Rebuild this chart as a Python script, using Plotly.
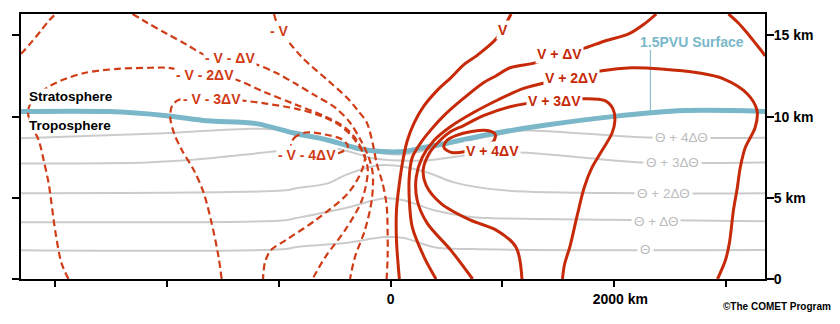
import plotly.graph_objects as go

# ---------------- cross-section data: distance (km) / height (km) ----------------
# 1.5 PVU dynamic tropopause
trop_x = [-3350, -2520, -2000, -1640, -1200, -850, -580, -290, -80, 120, 300, 480, 920, 1360, 1980, 2620, 3400]
trop_z = [10.31, 10.31, 10.06, 9.75, 9.57, 8.96, 8.59, 8.04, 7.85, 7.85, 8.10, 8.34, 8.96, 9.45, 10.0, 10.37, 10.31]

# isentropes
theta0_x = [-3350, -940, -850, -410, -50, 120, 390, 740, 3400]
theta0_z = [1.78, 1.84, 1.96, 2.21, 2.58, 2.52, 1.96, 1.84, 1.78]
theta1_x = [-3350, -940, -850, -410, -50, 120, 390, 740, 920, 3400]
theta1_z = [3.50, 3.62, 3.74, 4.36, 4.97, 4.85, 4.23, 3.80, 3.74, 3.56]
theta2_x = [-3350, -940, -850, -560, -410, -120, 35, 330, 565, 1010, 2240, 3400]
theta2_z = [5.28, 5.46, 5.58, 5.89, 6.38, 6.99, 6.99, 6.56, 5.95, 5.46, 5.28, 5.28]
theta3_x = [-3350, -2170, -1640, -940, -490, -140, 300, 740, 1155, 1710, 2240, 3400]
theta3_z = [7.12, 7.18, 7.42, 7.91, 8.04, 7.42, 7.30, 7.67, 7.79, 7.48, 7.18, 7.18]
theta4_x = [-3350, -2080, -1200, -850, -490, -230, 124, 477, 918, 1183, 1712, 2305, 3400]
theta4_z = [8.65, 8.96, 9.26, 9.08, 8.47, 7.91, 7.67, 8.22, 8.83, 9.14, 8.96, 8.71, 8.71]
theta_labels = ["Θ", "Θ + ΔΘ", "Θ + 2ΔΘ", "Θ + 3ΔΘ", "Θ + 4ΔΘ"]
theta_label_x = [2277, 2374, 2440, 2520, 2595]
theta_label_z = [1.84, 3.56, 5.28, 7.18, 8.71]

# wind-speed isotachs, negative side (dashed)
neg_v_x = [-1041, -1015, -936, -786, -556, -380, -291, -212, -159, -124, -71, -35, -26, -26, -35]
neg_v_z = [16.32, 15.77, 14.85, 13.62, 12.21, 11.10, 10.37, 9.63, 8.34, 7.12, 5.89, 4.54, 2.82, 1.35, 0]
neg_v_corner_x = [-3301, -3292, -3213, -3124, -3054, -2992]
neg_v_corner_z = [13.87, 13.93, 14.54, 15.28, 15.89, 16.32]
neg_v1_x = [-2304, -2171, -1995, -1818, -1642, -1430, -1218, -1024, -847, -671, -494, -362, -265, -194, -159, -168, -229, -318, -362]
neg_v1_z = [16.32, 15.77, 15.09, 14.42, 13.74, 13.5, 13.25, 12.70, 12.02, 11.29, 10.55, 9.63, 8.53, 7.48, 6.50, 4.85, 3.01, 1.35, 0]
neg_v2_x = [-2877, -2939, -2992, -3054, -3098, -3142, -3204, -3239, -3213, -3142, -3054, -2948, -2727, -2436, -2145,
            -1995, -1659, -1403, -1112, -847, -583, -406, -300, -229, -203, -256, -406, -583, -697]
neg_v2_z = [0, 0.98, 2.82, 5.89, 7.30, 8.53, 9.45, 10.25, 10.86, 11.41, 11.84, 12.21, 12.70, 12.94, 13.01,
            13.01, 12.64, 12.33, 11.47, 10.74, 10.0, 9.33, 8.53, 7.48, 6.69, 4.85, 3.01, 1.35, 0]
neg_v3_x = [-1509, -1536, -1598, -1668, -1756, -1862, -1933, -1968, -1951, -1889, -1593, -1315, -1112, -847, -627,
            -450, -335, -256, -229, -256, -380, -671, -936, -1068, -1121, -1139]
neg_v3_z = [0, 1.35, 3.44, 5.28, 6.69, 7.91, 8.96, 9.94, 10.67, 11.04, 11.10, 10.98, 10.80, 10.49, 10.06,
            9.45, 8.71, 7.91, 7.61, 6.69, 5.28, 3.62, 2.39, 1.78, 1.04, 0]
neg_v4_x = [-891, -865, -759, -583, -432, -380, -450, -671, -847, -891]
neg_v4_z = [7.91, 8.65, 9.02, 8.90, 8.59, 8.16, 7.79, 7.61, 7.67, 7.91]
neg_labels = ["- V", "- V - ΔV", "- V - 2ΔV", "- V - 3ΔV", "- V - 4ΔV"]
neg_label_x = [-993, -1430, -1655, -1593, -746]
neg_label_z = [15.28, 13.62, 12.58, 11.10, 7.61]

# wind-speed isotachs, positive side (solid)
pos_v_x = [1077, 1033, 988, 944, 768, 653, 538, 415, 300, 212, 150, 115, 79, 53, 53, 79]
pos_v_z = [16.32, 15.77, 15.28, 14.79, 13.74, 13.19, 12.39, 11.60, 10.67, 9.63, 8.53, 7.48, 5.89, 4.23, 2.39, 0]
pos_v_corner_x = [3019, 3107, 3186, 3257, 3327, 3345]
pos_v_corner_z = [16.32, 15.77, 15.15, 14.54, 13.93, 13.74]
pos_v1_x = [2374, 2268, 2127, 1915, 1739, 1500, 1289, 1068, 944, 830, 627, 477, 362, 265, 194, 168, 168, 194, 300, 406]
pos_v1_z = [16.32, 15.71, 15.09, 14.66, 14.23, 13.80, 13.31, 13.01, 12.52, 12.09, 10.98, 10.06, 9.20, 8.34, 7.48,
            6.38, 4.85, 3.19, 1.35, 0]
pos_v2_x = [733, 538, 327, 238, 229, 282, 388, 538, 741, 962, 1183, 1386, 1615, 1889, 2154, 2418, 2745, 2974,
            3186, 3274, 3257, 3169, 3124, 3098, 3063, 3027, 2992, 2921]
pos_v2_z = [0, 1.78, 3.44, 4.85, 6.26, 7.48, 8.53, 9.39, 10.25, 11.04, 11.72, 12.09, 12.39, 12.82, 13.01, 12.94,
            12.70, 12.33, 11.41, 10.37, 9.33, 8.10, 6.87, 5.64, 4.23, 2.21, 1.17, 0]
pos_v3_x = [1174, 1121, 944, 715, 450, 318, 291, 335, 415, 538, 653, 830, 1068, 1209, 1456, 1730, 1915, 1986,
            2004, 1977, 1889, 1800, 1730, 1668, 1606, 1553, 1536]
pos_v3_z = [0, 1.96, 3.01, 3.62, 4.66, 5.77, 6.69, 7.61, 8.34, 9.08, 9.45, 10.06, 10.61, 10.80, 10.98, 11.10,
            10.98, 10.49, 9.75, 8.96, 7.91, 6.87, 5.64, 3.93, 2.09, 0.86, 0]
pos_v4_x = [477, 503, 583, 724, 865, 936, 918, 812, 671, 547, 477]
pos_v4_z = [8.10, 8.53, 8.83, 9.08, 9.14, 8.90, 8.47, 8.16, 7.85, 7.79, 8.10]
pos_labels = ["V", "V + ΔV", "V + 2ΔV", "V + 3ΔV", "V + 4ΔV"]
pos_label_x = [1006, 1505, 1615, 1461, 913]
pos_label_z = [15.34, 13.87, 12.39, 10.98, 7.91]

# axes
x_tickvals = [-3000, -2000, -1000, 0, 1000, 2000, 3000]
x_ticktext = ["", "", "", "0", "", "&nbsp;&nbsp;&nbsp;2000 km", ""]
z_tickvals = [0, 5, 10, 15]
z_ticktext = ["0", "5 km", "10 km", "15 km"]

# PVU label leader
pvu_label_x, pvu_label_z = 2692, 14.6
pvu_leader_x = [2321, 2321]
pvu_leader_z = [14.11, 10.2]

FONT = "Liberation Sans, Arial, Helvetica, sans-serif"
GRAY = "#cbcbcb"
GRAY_TXT = "#bcbcbc"
BLUE = "#7ab8c9"
RED_SOLID = "#c62a08"
RED_DASH = "#d03c16"

fig = go.Figure()


def add_line(x, z, color, width, dash="solid"):
    fig.add_trace(go.Scatter(
        x=x, y=z, mode="lines",
        line=dict(color=color, width=width, dash=dash, shape="spline", smoothing=0.9),
        hoverinfo="skip", showlegend=False))


for tx, tz in [(theta0_x, theta0_z), (theta1_x, theta1_z), (theta2_x, theta2_z),
               (theta3_x, theta3_z), (theta4_x, theta4_z)]:
    add_line(tx, tz, GRAY, 2)

add_line(trop_x, trop_z, BLUE, 5)
fig.add_trace(go.Scatter(x=pvu_leader_x, y=pvu_leader_z, mode="lines",
                         line=dict(color=BLUE, width=1), hoverinfo="skip", showlegend=False))

for nx, nz in [(neg_v_x, neg_v_z), (neg_v_corner_x, neg_v_corner_z), (neg_v1_x, neg_v1_z),
               (neg_v2_x, neg_v2_z), (neg_v3_x, neg_v3_z), (neg_v4_x, neg_v4_z)]:
    add_line(nx, nz, RED_DASH, 2.2, dash="7px,4px")

for px_, pz in [(pos_v_x, pos_v_z), (pos_v_corner_x, pos_v_corner_z), (pos_v1_x, pos_v1_z),
                (pos_v2_x, pos_v2_z), (pos_v3_x, pos_v3_z), (pos_v4_x, pos_v4_z)]:
    add_line(px_, pz, RED_SOLID, 3)

ann = []
for t, x, z in zip(theta_labels, theta_label_x, theta_label_z):
    ann.append(dict(x=x, y=z, text=t, showarrow=False, bgcolor="white", borderpad=2,
                    font=dict(family=FONT, size=13.5, color=GRAY_TXT)))
for t, x, z in zip(neg_labels, neg_label_x, neg_label_z):
    ann.append(dict(x=x, y=z, text="<b>%s</b>" % t, showarrow=False, bgcolor="white", borderpad=1,
                    font=dict(family=FONT, size=14, color=RED_DASH)))
for t, x, z in zip(pos_labels, pos_label_x, pos_label_z):
    ann.append(dict(x=x, y=z, text="<b>%s</b>" % t, showarrow=False, bgcolor="white", borderpad=1,
                    font=dict(family=FONT, size=14, color=RED_SOLID)))
ann.append(dict(x=pvu_label_x, y=pvu_label_z, text="<b>1.5PVU Surface</b>", showarrow=False,
                font=dict(family=FONT, size=14, color=BLUE)))
ann.append(dict(x=-3240, y=11.23, xanchor="left", text="<b>Stratosphere</b>", showarrow=False,
                bgcolor="white", borderpad=0, font=dict(family=FONT, size=13.5, color="black")))
ann.append(dict(x=-3240, y=9.45, xanchor="left", text="<b>Troposphere</b>", showarrow=False,
                bgcolor="white", borderpad=0, font=dict(family=FONT, size=13.5, color="black")))
ann.append(dict(x=1.0916, y=-0.105, xref="paper", yref="paper", xanchor="right", yanchor="middle",
                text="<b>©The COMET Program</b>", showarrow=False,
                font=dict(family=FONT, size=10, color="black")))

fig.update_layout(
    width=840, height=324,
    margin=dict(l=12, r=75, t=13, b=45),
    paper_bgcolor="white", plot_bgcolor="white",
    showlegend=False,
    annotations=ann,
    xaxis=dict(range=[-3301, 3345], showgrid=False, zeroline=False,
               showline=True, linecolor="black", linewidth=2, mirror=True,
               ticks="outside", ticklen=6, tickwidth=2, tickcolor="black",
               tickvals=x_tickvals, ticktext=["<b>%s</b>" % t if t else "" for t in x_ticktext],
               tickfont=dict(family=FONT, size=14, color="black")),
    yaxis=dict(range=[0, 16.32], side="right", showgrid=False, zeroline=False,
               showline=True, linecolor="black", linewidth=2, mirror="ticks",
               ticks="outside", ticklen=7, tickwidth=2, tickcolor="black",
               ticklabelstandoff=-3,
               tickvals=z_tickvals, ticktext=["<b>%s</b>" % t for t in z_ticktext],
               tickfont=dict(family=FONT, size=14, color="black")),
)

fig.write_html("out.html")
